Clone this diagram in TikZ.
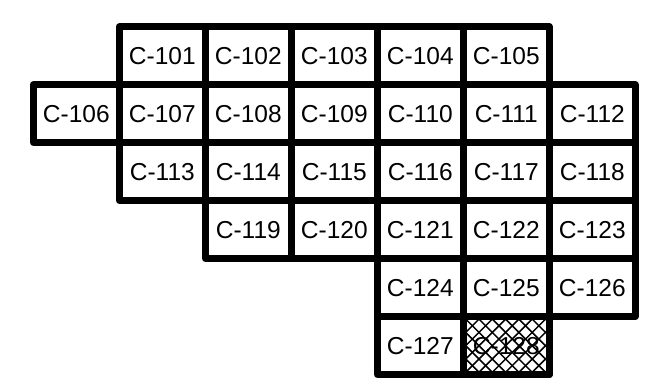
\documentclass[tikz,border=0pt]{standalone}
\usepackage{fontspec}
\setmainfont{Liberation Sans}
\begin{document}
\begin{tikzpicture}[x=1pt,y=-1pt,
  cell/.style={draw, line width=6.5pt, line join=round, minimum width=86pt,
    minimum height=58pt, inner sep=0pt, outer sep=0pt, anchor=center,
    font=\fontsize{24.5}{29}\selectfont},
  hatchline/.style={line width=1.5pt}]
\useasboundingbox (0,0) rectangle (654,382);
\foreach \n/\c/\r in {101/1/0,102/2/0,103/3/0,104/4/0,105/5/0,
  106/0/1,107/1/1,108/2/1,109/3/1,110/4/1,111/5/1,112/6/1,
  113/1/2,114/2/2,115/3/2,116/4/2,117/5/2,118/6/2,
  119/2/3,120/3/3,121/4/3,122/5/3,123/6/3,
  124/4/4,125/5/4,126/6/4,
  127/4/5,128/5/5}
  \node[cell] (c\n) at ({33.3+86*\c+43},{26.7+58*\r+29}) {C-\n};
\begin{scope}
  \clip (c128.south west) rectangle (c128.north east);
  \foreach \k in {-6,...,8} {
    \draw[hatchline] ([xshift={13.3*\k*1pt}]c128.north west) -- ++(58,58);
    \draw[hatchline] ([xshift={13.3*\k*1pt}]c128.south west) -- ++(58,-58);
  }
\end{scope}
\draw[line width=6.5pt, line join=round] (c128.south west) rectangle (c128.north east);
\end{tikzpicture}
\end{document}
